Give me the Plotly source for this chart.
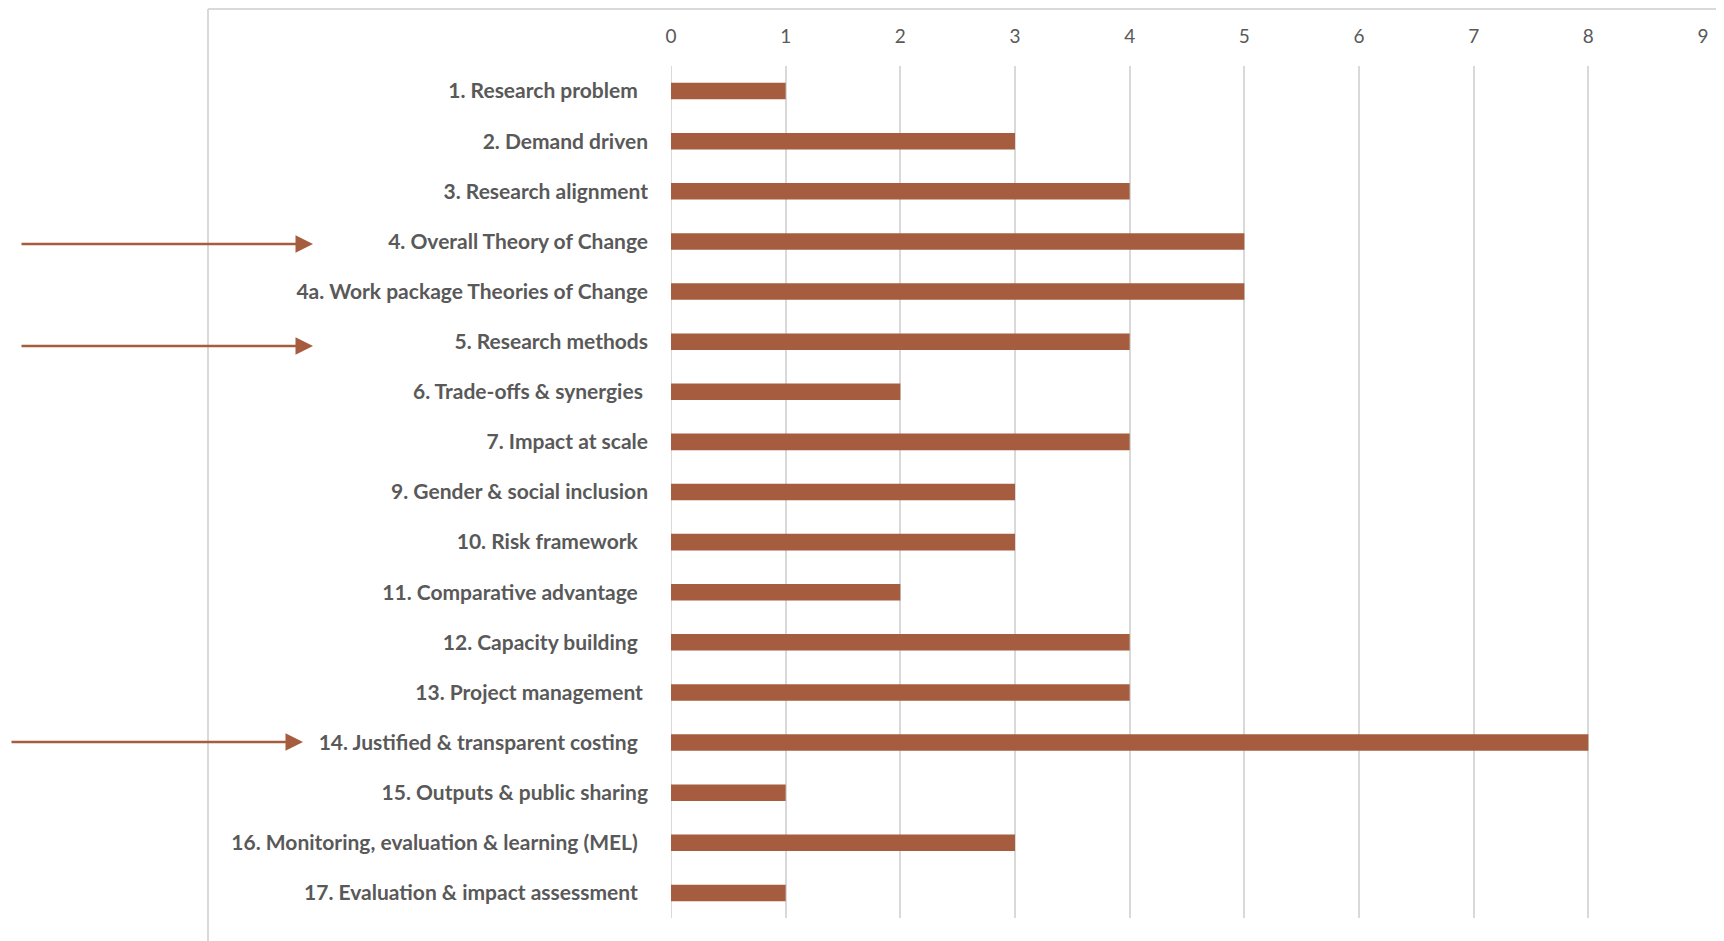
import plotly.graph_objects as go

NB = "\u00a0"
categories = [
    "1. Research problem" + NB * 2,
    "2. Demand driven",
    "3. Research alignment",
    "4. Overall Theory of Change",
    "4a. Work package Theories of Change",
    "5. Research methods",
    "6. Trade-offs & synergies" + NB,
    "7. Impact at scale",
    "9. Gender & social inclusion",
    "10. Risk framework" + NB * 2,
    "11. Comparative advantage" + NB * 2,
    "12. Capacity building" + NB * 2,
    "13. Project management" + NB,
    "14. Justified & transparent costing" + NB * 2,
    "15. Outputs & public sharing",
    "16. Monitoring, evaluation & learning (MEL)" + NB * 2,
    "17. Evaluation & impact assessment" + NB * 2,
]
values = [1, 3, 4, 5, 5, 4, 2, 4, 3, 3, 2, 4, 4, 8, 1, 3, 1]
x_ticks = list(range(0, 10))

BAR = "#A65C3E"
GRID = "#D9D9D9"
TXT = "#595959"

OFF = 8  # page body margin
W, H = 1724 - OFF, 941 - OFF
L, R, T, B = 671 - OFF, 21, 66 - OFF, 23
pw, ph = W - L - R, H - T - B

def px_x(p):
    return (p - OFF - L) / pw

def px_y(p):
    return 1 - (p - OFF - T) / ph

fig = go.Figure(go.Bar(
    x=values, y=categories, orientation="h",
    marker=dict(color=BAR, line=dict(width=0)),
    width=0.33,
))

fig.update_layout(
    width=W, height=H,
    margin=dict(l=L, r=R, t=T, b=B, autoexpand=False),
    paper_bgcolor="white", plot_bgcolor="white",
    showlegend=False,
    xaxis=dict(
        side="top", range=[0, 9], tickvals=x_ticks,
        showgrid=True, gridcolor=GRID, gridwidth=2,
        zeroline=False, showline=False, ticks="",
        tickfont=dict(family="Lato", size=19, color=TXT),
        ticklabelstandoff=18,
    ),
    yaxis=dict(
        autorange="reversed", showgrid=False, zeroline=False,
        showline=False, ticks="",
        tickfont=dict(family="Lato", size=21, color=TXT, weight="bold"),
        ticklabelstandoff=22,
    ),
)

# zero line in gridline colour
fig.add_shape(type="line", xref="x", yref="paper", x0=0, x1=0, y0=0, y1=1,
              line=dict(color=GRID, width=2), layer="below")

# outer frame (left and top)
fig.add_shape(type="line", xref="paper", yref="paper",
              x0=px_x(208), x1=px_x(208), y0=px_y(9), y1=px_y(941),
              line=dict(color=GRID, width=2))
fig.add_shape(type="line", xref="paper", yref="paper",
              x0=px_x(208), x1=px_x(1724), y0=px_y(9), y1=px_y(9),
              line=dict(color=GRID, width=2))

arrows = [(313, 20, 244), (313, 20, 346), (303, 10, 742)]
for head, tail, yy in arrows:
    fig.add_annotation(
        x=px_x(head), y=px_y(yy), xref="paper", yref="paper",
        ax=tail - head, ay=0, axref="pixel", ayref="pixel",
        showarrow=True, arrowhead=2, arrowsize=1.4, arrowwidth=2.5,
        arrowcolor=BAR, text="",
    )

fig.write_html("out.html")
